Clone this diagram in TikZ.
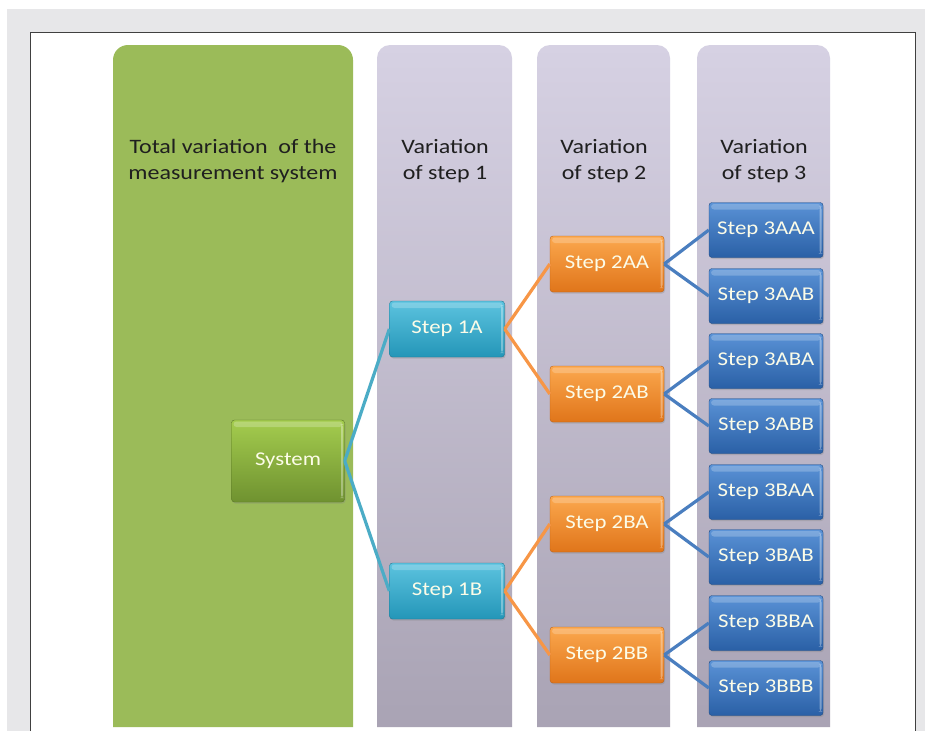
\documentclass[tikz,border=0pt]{standalone}
\usepackage{fontspec}
\setmainfont{Carlito}[FakeStretch=1.17]
\usetikzlibrary{shadows}
\definecolor{pagegray}{HTML}{E7E7E9}
\definecolor{colgreen}{HTML}{9BBB59}
\definecolor{colpurpT}{HTML}{D6D1E3}
\definecolor{colpurpB}{HTML}{A9A3B4}
\definecolor{grnT}{HTML}{A4CC4E}
\definecolor{grnB}{HTML}{6F9230}
\definecolor{cyaT}{HTML}{5CC3DF}
\definecolor{cyaB}{HTML}{2496B8}
\definecolor{orgT}{HTML}{FBA84E}
\definecolor{orgB}{HTML}{E0751A}
\definecolor{bluT}{HTML}{5A92D6}
\definecolor{bluB}{HTML}{2A60A6}
\definecolor{lnCya}{HTML}{4BACC6}
\definecolor{lnOrg}{HTML}{F79646}
\definecolor{lnBlu}{HTML}{4A7EBF}
\definecolor{boxtxt}{HTML}{FCFCE8}
\begin{document}
\begin{tikzpicture}[x=1pt,y=-1pt,
  hdr/.style={align=center,font=\fontsize{20.5}{26}\selectfont,text=black!88},
  box/.style={minimum width=#1,rounded corners=3pt,font=\fontsize{19.5}{22}\selectfont,text=boxtxt,inner sep=0pt,
    drop shadow={opacity=0.3,shadow xshift=1pt,shadow yshift=-1.5pt},
    path picture={\fill[white,opacity=0.22] ([xshift=2pt,yshift=-1.5pt]path picture bounding box.north west) rectangle ([xshift=-2pt,yshift=-7pt]path picture bounding box.north east);
      \fill[white,opacity=0.35] ([xshift=-3.5pt,yshift=-4pt]path picture bounding box.north east) rectangle ([xshift=-1.5pt,yshift=4pt]path picture bounding box.south east);}},
  gbox/.style={box=113pt,minimum height=82pt,top color=grnT,bottom color=grnB,draw=grnB!80!black},
  cbox/.style={box=115pt,minimum height=56pt,top color=cyaT,bottom color=cyaB,draw=cyaB!80!black},
  obox/.style={box=114pt,minimum height=56pt,top color=orgT,bottom color=orgB,draw=orgB!85!black},
  bbox/.style={box=114pt,minimum height=55pt,top color=bluT,bottom color=bluB,draw=bluB!80!black},
  cl/.style={line width=3.2pt,lnCya},
  ol/.style={line width=3.2pt,lnOrg},
  bl/.style={line width=3.2pt,lnBlu}]
\useasboundingbox (0,0) rectangle (925,731);
\fill[white] (0,0) rectangle (925,731);
\fill[pagegray] (7,9) rectangle (925,731);
\fill[white] (30,32) rectangle (915,731);
\draw[black!75,line width=0.8pt] (30,731) -- (30,32) -- (915,32) -- (915,731);
% columns
\fill[colgreen] (113,727) -- (113,60) arc[start angle=180,end angle=270,radius=15] -- (338,45) arc[start angle=270,end angle=360,radius=15] -- (353,727) -- cycle;
\foreach \xa/\xb in {377/512,537/670,697/830}{
  \shade[top color=colpurpT,bottom color=colpurpB] (\xa,727) -- (\xa,58) arc[start angle=180,end angle=270,radius=13] -- (\xb-13,45) arc[start angle=270,end angle=360,radius=13] -- (\xb,727) -- cycle;
}
\node[hdr] (h0) at (233,161) {Total variation\ \ of the\\measurement system};
\node[hdr] (h1) at (445,161) {Variation\\of step 1};
\node[hdr] (h2) at (604,161) {Variation\\of step 2};
\node[hdr] (h3) at (764,161) {Variation\\of step 3};
% nodes
\node[gbox] (sys) at (288,461) {System};
\node[cbox] (s1a) at (447,329) {Step 1A};
\node[cbox] (s1b) at (447,591) {Step 1B};
\node[obox] (s2aa) at (607,264) {Step 2AA};
\node[obox] (s2ab) at (607,394) {Step 2AB};
\node[obox] (s2ba) at (607,524) {Step 2BA};
\node[obox] (s2bb) at (607,655) {Step 2BB};
\node[bbox] (s3aaa) at (766,230) {Step 3AAA};
\node[bbox] (s3aab) at (766,296) {Step 3AAB};
\node[bbox] (s3aba) at (766,361) {Step 3ABA};
\node[bbox] (s3abb) at (766,426) {Step 3ABB};
\node[bbox] (s3baa) at (766,492) {Step 3BAA};
\node[bbox] (s3bab) at (766,557) {Step 3BAB};
\node[bbox] (s3bba) at (766,623) {Step 3BBA};
\node[bbox] (s3bbb) at (766,688) {Step 3BBB};
% connectors
\draw[cl] (sys.east) -- (s1a.west);
\draw[cl] (sys.east) -- (s1b.west);
\draw[ol] (s1a.east) -- (s2aa.west);
\draw[ol] (s1a.east) -- (s2ab.west);
\draw[ol] (s1b.east) -- (s2ba.west);
\draw[ol] (s1b.east) -- (s2bb.west);
\draw[bl] (s2aa.east) -- (s3aaa.west);
\draw[bl] (s2aa.east) -- (s3aab.west);
\draw[bl] (s2ab.east) -- (s3aba.west);
\draw[bl] (s2ab.east) -- (s3abb.west);
\draw[bl] (s2ba.east) -- (s3baa.west);
\draw[bl] (s2ba.east) -- (s3bab.west);
\draw[bl] (s2bb.east) -- (s3bba.west);
\draw[bl] (s2bb.east) -- (s3bbb.west);
\end{tikzpicture}
\end{document}
